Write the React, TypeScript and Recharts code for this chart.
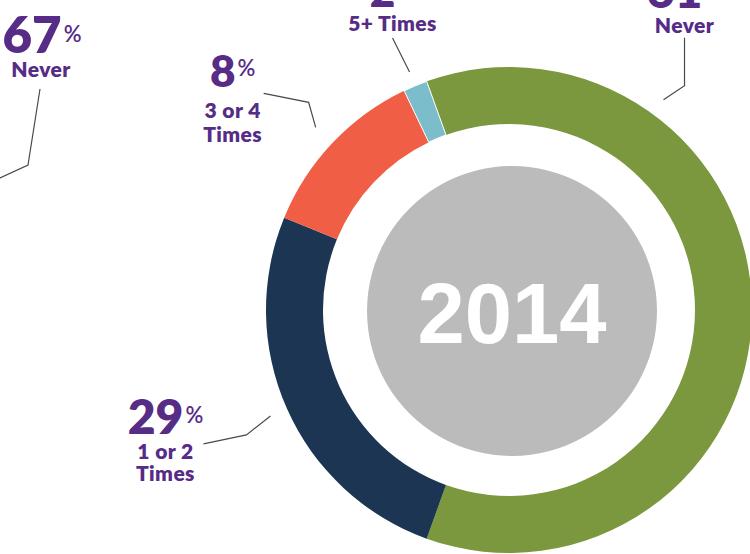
import React from 'react';
import { PieChart, Pie, Cell, Customized } from 'recharts';

const categories = ['Never', '1 or 2 Times', '3 or 4 Times', '5+ Times'];
const drawnShares = [61, 25.7, 11.7, 1.6];
// percentages printed beside the slices
const printedPercents = [61, 29, 8, 2];
const labelLines = [['Never'], ['1 or 2', 'Times'], ['3 or 4', 'Times'], ['5+ Times']];
const sliceColors = ['#7b983e', '#1b3553', '#ef5e45', '#7bbdcb'];

const yearLabel = '2014';
// the neighbouring chart, cut off at the left edge
const prevPercent = 67;
const prevCategory = 'Never';

const PURPLE = '#562c86';
const LINE = '#4a4a4a';
const FONT = 'Lato, "Open Sans", sans-serif';
const RAD = Math.PI / 180;

const ringData = categories.map((name, i) => ({ name, value: drawnShares[i] }));
const centerData = [{ name: yearLabel, value: 1 }];

// leader line and text placement per slice, relative to the anchor point
const labelLayout = [
  { angle: 53.7, gap: 18, pts: [[21, -14], [21, -62]], textX: 21, numY: -92, lineY: [-67], numSize: 48 },
  { angle: null, gap: 18, pts: [[-24, 19], [-67, 28]], textX: -105, numY: 18, lineY: [43, 65], numSize: 48 },
  { angle: null, gap: 23, pts: [[-7, -25], [-52, -34]], textX: -83, numY: -40, lineY: [-9, 15], numSize: 44 },
  { angle: null, gap: 15, pts: [[-17, -34]], textX: -17, numY: -65, lineY: [-41], numSize: 44 },
];

const PercentText = ({ x, y, pct, size }: { x: number; y: number; pct: number; size: number }) => (
  <text x={x} y={y} textAnchor="middle" fill={PURPLE} fontFamily={FONT} fontWeight={800}>
    <tspan fontSize={size}>{pct}</tspan>
    <tspan fontSize={22} fontWeight={600} dx={2} dy={-11}>%</tspan>
  </text>
);

const SubText = ({ x, y, children }: { x: number; y: number; children: React.ReactNode }) => (
  <text x={x} y={y} textAnchor="middle" fill={PURPLE} fontFamily={FONT} fontWeight={800}
    fontSize={21} letterSpacing={0.4}>
    {children}
  </text>
);

const renderSliceLabel = (props: any) => {
  const { cx, cy, midAngle, outerRadius, index } = props;
  const lay = labelLayout[index];
  const ang = lay.angle ?? midAngle;
  const r = outerRadius + lay.gap;
  const ax = cx + r * Math.cos(-ang * RAD);
  const ay = cy + r * Math.sin(-ang * RAD);
  const points = [[ax, ay], ...lay.pts.map(([dx, dy]) => [ax + dx, ay + dy])];
  return (
    <g key={`lbl-${index}`}>
      <polyline points={points.map((p) => p.join(',')).join(' ')} fill="none" stroke={LINE} strokeWidth={1.2} />
      <PercentText x={ax + lay.textX} y={ay + lay.numY} pct={printedPercents[index]} size={lay.numSize} />
      {labelLines[index].map((t, j) => (
        <SubText key={j} x={ax + lay.textX} y={ay + lay.lineY[j]}>
          {t}
        </SubText>
      ))}
    </g>
  );
};

const renderYear = (props: any) => (
  <text key="year" x={props.cx} y={props.cy + 32} textAnchor="middle" fill="#ffffff"
    fontFamily='"Liberation Sans", Arial, sans-serif' fontWeight={700} fontSize={85}>
    {yearLabel}
  </text>
);

const PrevChartNote = () => (
  <g>
    <polyline points="40,89 28,165 0,178 -10,183" fill="none" stroke={LINE} strokeWidth={1.2} />
    <PercentText x={42} y={53} pct={prevPercent} size={51} />
    <SubText x={41} y={77}>{prevCategory}</SubText>
  </g>
);

export default function App() {
  return (
    <div style={{ position: 'absolute', left: 0, top: 0, width: 750, height: 554, background: '#fff' }}>
      <PieChart width={750} height={554} margin={{ top: 0, right: 0, bottom: 0, left: 0 }}>
        <Pie
          data={ringData}
          dataKey="value"
          cx={509}
          cy={310}
          innerRadius={186}
          outerRadius={243}
          startAngle={109.8}
          endAngle={-250.2}
          stroke="none"
          label={renderSliceLabel}
          labelLine={false}
          isAnimationActive={false}
        >
          {ringData.map((d, i) => (
            <Cell key={d.name} fill={sliceColors[i]} stroke={i === 3 ? '#ffffff' : 'none'} strokeWidth={1} />
          ))}
        </Pie>
        <Pie
          data={centerData}
          dataKey="value"
          cx={512}
          cy={311}
          innerRadius={0}
          outerRadius={145}
          fill="#bbbbbb"
          stroke="none"
          label={renderYear}
          labelLine={false}
          isAnimationActive={false}
        />
        <Customized component={PrevChartNote} />
      </PieChart>
    </div>
  );
}
